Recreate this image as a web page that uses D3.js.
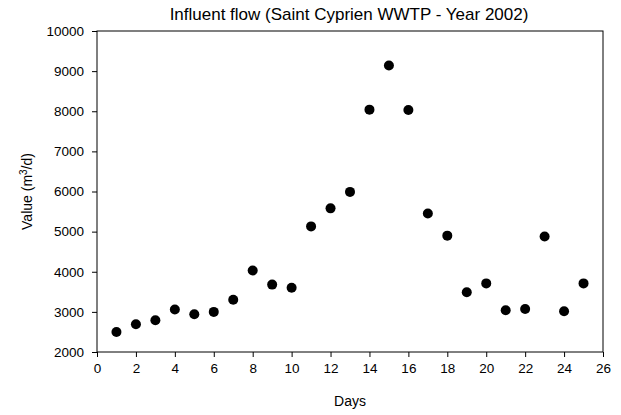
<!DOCTYPE html>
<head>
  <meta charset="utf-8">
  <script src="https://d3js.org/d3.v7.min.js"></script>
  <style>
    body { margin:0; background:#fff; }
    text { font-family: "Liberation Sans", Arial, sans-serif; fill:#000; }
  </style>
</head>
<body>
<script>
  var days = [1,2,3,4,5,6,7,8,9,10,11,12,13,14,15,16,17,18,19,20,21,22,23,24,25];
  var flow = [2500,2690,2790,3060,2940,3000,3300,4030,3680,3600,5130,5580,5990,8040,9140,8030,5450,4900,3490,3710,3040,3070,4880,3015,3710];
  var xTicks = d3.range(0, 27, 2);
  var yTicks = d3.range(2000, 10001, 1000);

  var margin = {top: 31, right: 18, bottom: 63, left: 97},
    width = 621 - margin.left - margin.right,
    height = 415 - margin.top - margin.bottom;

  var svg = d3.select("body").append("svg")
    .attr("width", 621)
    .attr("height", 415);

  var g = svg.append("g")
    .attr("transform", "translate(" + margin.left + "," + margin.top + ")");

  var x = d3.scaleLinear().domain([0, 26]).range([0, width]);
  var y = d3.scaleLinear().domain([2000, 10000]).range([height, 0]);

  // frame
  g.append("rect")
    .attr("width", width).attr("height", height)
    .attr("fill", "none").attr("stroke", "#000").attr("stroke-width", 1);

  g.append("g")
    .attr("transform", "translate(0," + height + ")")
    .call(d3.axisBottom(x).tickValues(xTicks).tickFormat(d3.format("d")).tickSize(5).tickPadding(6))
    .call(function(a) { a.select(".domain").remove(); })
    .selectAll("text").style("font-size", "13.5px");

  g.append("g")
    .call(d3.axisLeft(y).tickValues(yTicks).tickFormat(d3.format("d")).tickSize(5).tickPadding(8))
    .call(function(a) { a.select(".domain").remove(); })
    .selectAll("text").style("font-size", "13.5px");

  g.selectAll("circle")
    .data(days)
    .enter().append("circle")
    .attr("cx", function(d) { return x(d); })
    .attr("cy", function(d, i) { return y(flow[i]); })
    .attr("r", 5)
    .attr("fill", "#000");

  svg.append("text")
    .attr("x", 349).attr("y", 20)
    .attr("text-anchor", "middle")
    .style("font-size", "17px")
    .text("Influent flow (Saint Cyprien WWTP - Year 2002)");

  svg.append("text")
    .attr("x", margin.left + width / 2).attr("y", 406)
    .attr("text-anchor", "middle")
    .style("font-size", "14px")
    .text("Days");

  var yl = svg.append("text")
    .attr("transform", "translate(32," + (margin.top + height / 2) + ") rotate(-90)")
    .attr("text-anchor", "middle")
    .style("font-size", "14px");
  yl.append("tspan").text("Value (m");
  yl.append("tspan").attr("dy", -5).style("font-size", "10px").text("3");
  yl.append("tspan").attr("dy", 5).text("/d)");
</script>
</body>
